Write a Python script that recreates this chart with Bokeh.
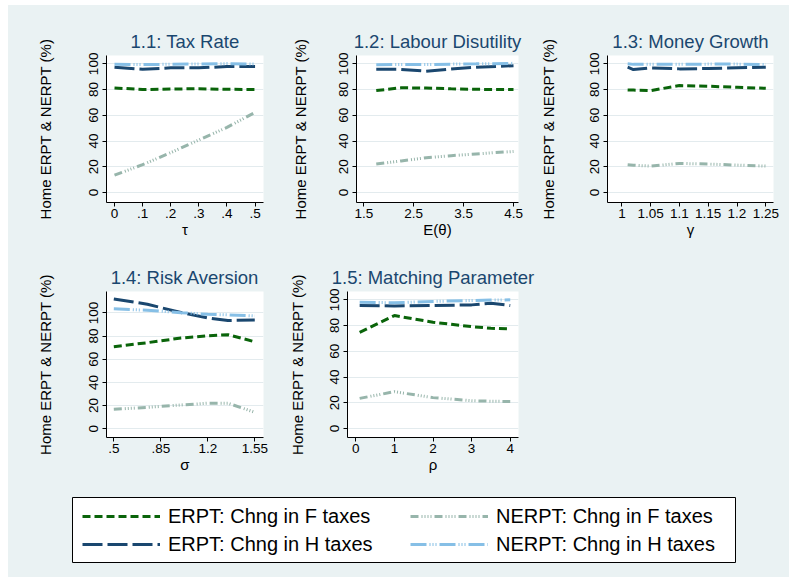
from bokeh.plotting import figure
from bokeh.layouts import column, row
from bokeh.models import Legend, LegendItem, Range1d, Spacer
from bokeh.embed import file_html
from bokeh.resources import INLINE

BG = "#eaf2f3"
FONT = "Liberation Sans"
NAVY = "#1a476f"

series_names = ["ERPT: Chng in F taxes", "ERPT: Chng in H taxes",
                "NERPT: Chng in F taxes", "NERPT: Chng in H taxes"]
series_colors = ["#0a640a", "#1a476f", "#97b5ab", "#86bfe6"]
series_dashes = ["8 4", "20 5", "8 3 1 2 1 2 1 2 1 3", "16 3 1 2 1 2 1 3"]

y_ticks = [0, 20, 40, 60, 80, 100]

# 1.1 Tax rate
tau = [0, 0.1, 0.2, 0.3, 0.4, 0.5]
tau_erpt_f = [81.3, 80.0, 80.5, 80.6, 80.2, 80.1]
tau_erpt_h = [97.4, 95.8, 96.9, 96.9, 97.9, 98.0]
tau_nerpt_f = [13.5, 21.6, 31.0, 40.8, 50.6, 62.3]
tau_nerpt_h = [99.6, 99.4, 99.7, 99.9, 100.2, 99.8]
tau_ticks = [0, 0.1, 0.2, 0.3, 0.4, 0.5]
tau_labels = ["0", ".1", ".2", ".3", ".4", ".5"]

# 1.2 Labour disutility
theta = [1.75, 2.25, 2.75, 3.25, 3.75, 4.5]
theta_erpt_f = [79.2, 81.4, 81.2, 80.6, 80.2, 80.0]
theta_erpt_h = [95.8, 95.7, 94.3, 96.0, 97.4, 98.6]
theta_nerpt_f = [22.1, 24.5, 27.0, 28.6, 30.0, 31.9]
theta_nerpt_h = [99.3, 99.5, 99.5, 99.8, 100.0, 100.4]
theta_ticks = [1.5, 2.5, 3.5, 4.5]
theta_labels = ["1.5", "2.5", "3.5", "4.5"]

# 1.3 Money growth
gamma = [1.01, 1.02, 1.05, 1.10, 1.15, 1.20, 1.25]
gamma_erpt_f = [79.7, 79.6, 79.2, 83.1, 82.6, 81.8, 81.0]
gamma_erpt_h = [97.4, 95.6, 96.9, 96.1, 96.4, 96.9, 97.4]
gamma_nerpt_f = [21.6, 21.2, 20.5, 22.6, 22.1, 21.3, 20.5]
gamma_nerpt_h = [100.0, 99.6, 99.7, 99.7, 99.8, 99.8, 99.5]
gamma_ticks = [1, 1.05, 1.1, 1.15, 1.2, 1.25]
gamma_labels = ["1", "1.05", "1.1", "1.15", "1.2", "1.25"]

# 1.4 Risk aversion
sigma = [0.5, 0.75, 1.0, 1.2, 1.35, 1.55]
sigma_erpt_f = [70.8, 74.3, 78.3, 80.3, 81.2, 75.1]
sigma_erpt_h = [112.1, 107.5, 100.3, 95.7, 93.4, 93.9]
sigma_nerpt_f = [16.8, 18.4, 20.5, 22.0, 22.0, 14.2]
sigma_nerpt_h = [103.5, 102.3, 100.2, 98.8, 98.3, 97.4]
sigma_ticks = [0.5, 0.85, 1.2, 1.55]
sigma_labels = [".5", ".85", "1.2", "1.55"]

# 1.5 Matching parameter
rho = [0.1, 1, 2, 3, 3.5, 4]
rho_erpt_f = [74.8, 87.8, 82.6, 79.2, 77.9, 77.4]
rho_erpt_h = [95.6, 95.3, 95.6, 96.1, 97.4, 95.6]
rho_nerpt_f = [23.4, 28.6, 24.0, 21.6, 21.2, 21.0]
rho_nerpt_h = [98.2, 97.7, 98.8, 99.5, 99.9, 100.0]
rho_ticks = [0, 1, 2, 3, 4]
rho_labels = ["0", "1", "2", "3", "4"]


def panel(title, xlab, x, ys, ticks, labels, xr, yr, w, h, bl, br, bt, bb, lab_stand):
    p = figure(width=w, height=h, x_range=Range1d(*xr), y_range=Range1d(*yr),
               min_border_left=bl, min_border_right=br, min_border_top=bt,
               min_border_bottom=bb, output_backend="svg", toolbar_location=None,
               title=title)
    p.outline_line_color = None
    p.background_fill_color = "white"
    p.border_fill_color = BG
    p.title.align = "center"
    p.title.text_font = FONT
    p.title.text_font_size = "18.5px"
    p.title.text_font_style = "normal"
    p.title.text_color = NAVY
    p.title.standoff = 8
    p.xgrid.visible = False
    p.ygrid.grid_line_color = "#e3ebee"
    p.ygrid.ticker = y_ticks
    for ax in (p.xaxis, p.yaxis):
        ax.axis_line_color = "black"
        ax.major_tick_line_color = "black"
        ax.major_tick_out = 4
        ax.major_tick_in = 0
        ax.minor_tick_line_color = None
        ax.major_label_text_font = FONT
        ax.major_label_text_font_size = "13.5px"
        ax.major_label_text_color = "black"
        ax.axis_label_text_font = FONT
        ax.axis_label_text_font_style = "normal"
        ax.axis_label_text_color = "black"
        ax.axis_label_text_font_size = "15px"
    p.yaxis.major_label_standoff = 4
    p.yaxis.ticker = y_ticks
    p.yaxis.major_label_orientation = "vertical"
    p.yaxis.axis_label = "Home ERPT & NERPT (%)"
    p.yaxis.axis_label_standoff = lab_stand
    p.xaxis.ticker = ticks
    p.xaxis.major_label_overrides = {t: l for t, l in zip(ticks, labels)}
    p.xaxis.major_label_standoff = 2
    p.xaxis.axis_label = xlab
    p.xaxis.axis_label_standoff = 0
    for yv, c, d in zip(ys, series_colors, series_dashes):
        p.line(x, yv, line_color=c, line_width=3, line_dash=d)
    return p


f1 = panel("1.1: Tax Rate", "τ", tau, [tau_erpt_f, tau_erpt_h, tau_nerpt_f, tau_nerpt_h],
           tau_ticks, tau_labels, (-0.0285, 0.53), (-7.8, 106.5), 272, 245, 98, 17, 50, 48, 33)
f2 = panel("1.2: Labour Disutility", "E(θ)", theta,
           [theta_erpt_f, theta_erpt_h, theta_nerpt_f, theta_nerpt_h],
           theta_ticks, theta_labels, (1.354, 4.6), (-7.8, 106.5), 250, 245, 76, 12, 50, 48, 28)
f3 = panel("1.3: Money Growth", "γ", gamma,
           [gamma_erpt_f, gamma_erpt_h, gamma_nerpt_f, gamma_nerpt_h],
           gamma_ticks, gamma_labels, (0.975, 1.2634), (-7.8, 106.5), 259, 245, 77, 16, 50, 48, 31)
f4 = panel("1.4: Risk Aversion", "σ", sigma,
           [sigma_erpt_f, sigma_erpt_h, sigma_nerpt_f, sigma_nerpt_h],
           sigma_ticks, sigma_labels, (0.4455, 1.615), (-7.6, 118.5), 272, 232, 98, 17, 41, 45, 33)
f5 = panel("1.5: Matching Parameter", "ρ", rho,
           [rho_erpt_f, rho_erpt_h, rho_nerpt_f, rho_nerpt_h],
           rho_ticks, rho_labels, (-0.215, 4.214), (-7.0, 106.5), 260, 232, 67, 22, 41, 45, 22)

blank = figure(width=249, height=232, output_backend="svg", toolbar_location=None,
               x_axis_location=None, y_axis_location=None)
blank.outline_line_color = None
blank.background_fill_color = BG
blank.border_fill_color = BG
blank.grid.visible = False

leg = figure(width=781, height=95, x_range=Range1d(0, 1), y_range=Range1d(0, 1),
             min_border_left=64, min_border_right=54, min_border_top=15, min_border_bottom=15,
             output_backend="svg", toolbar_location=None,
             x_axis_location=None, y_axis_location=None)
leg.outline_line_color = "black"
leg.outline_line_width = 1
leg.background_fill_color = "white"
leg.border_fill_color = BG
leg.grid.visible = False

nan = float("nan")
rends = [leg.line(x=[nan], y=[nan], line_color=c, line_width=3, line_dash=d)
         for c, d in zip(series_colors, series_dashes)]

for idxs, loc in (([0, 1], (10, 4)), ([2, 3], (338, 4))):
    lg = Legend(items=[LegendItem(label=series_names[i], renderers=[rends[i]]) for i in idxs],
                location=loc, glyph_width=78, glyph_height=28, label_height=28,
                label_standoff=8, spacing=0, padding=0, margin=0,
                border_line_color=None, background_fill_alpha=0,
                label_text_font=FONT, label_text_font_size="20px", label_text_color="black")
    leg.add_layout(lg)

bgs = {"background-color": BG}
content = column(row(f1, f2, f3, styles=bgs), row(f4, f5, blank, styles=bgs), leg, styles=bgs)
layout = column(Spacer(width=789, height=5), row(Spacer(width=8, height=572), content))
open("out.html", "w").write(file_html(layout, INLINE))
